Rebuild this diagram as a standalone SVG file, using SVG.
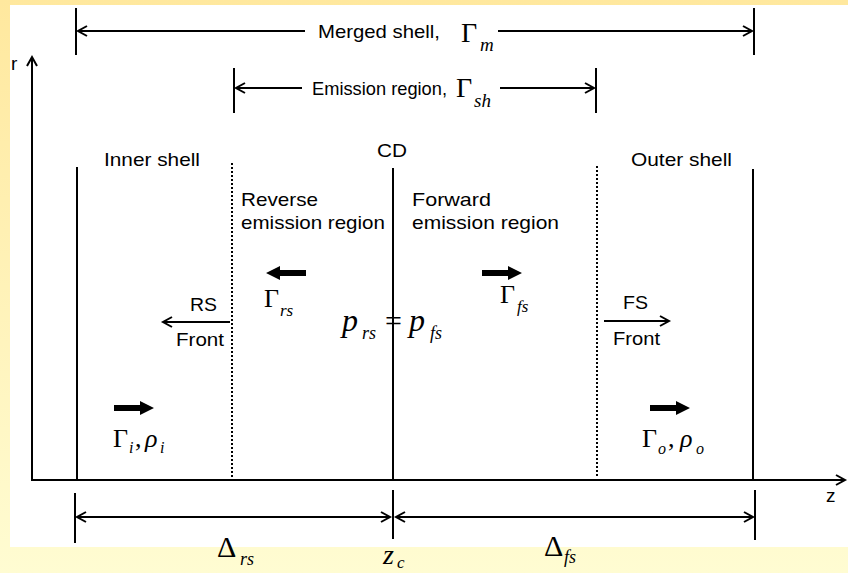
<svg xmlns="http://www.w3.org/2000/svg" width="848" height="573" viewBox="0 0 848 573">
<defs>
<linearGradient id="bg" x1="0" y1="0" x2="0" y2="1">
<stop offset="0" stop-color="#FFE89E"/>
<stop offset="1" stop-color="#FFFCD2"/>
</linearGradient>
<marker id="ah" markerUnits="userSpaceOnUse" markerWidth="14" markerHeight="14" refX="11" refY="7" orient="auto-start-reverse">
<path d="M2,2 L11,7 L2,12" fill="none" stroke="#000" stroke-width="2"/>
</marker>
</defs>
<style>
.ln{stroke:#000;stroke-width:2;fill:none}
.dot{stroke:#000;stroke-width:2;fill:none;stroke-dasharray:2 2}
.lab{font-family:"Liberation Sans",Arial,sans-serif;font-size:19px;fill:#000}
.m{font-family:"Liberation Serif","Times New Roman",serif;fill:#000}
.it{font-style:italic}
.thick{fill:#000}
</style>
<rect x="0" y="0" width="848" height="573" fill="url(#bg)"/>
<rect x="10" y="5" width="838" height="542" fill="#fff"/>

<g id="axes">
<line class="ln" x1="32" y1="480" x2="32" y2="57" marker-end="url(#ah)"/>
<line class="ln" x1="31" y1="480" x2="845" y2="480" marker-end="url(#ah)"/>
<text class="lab" x="11" y="70">r</text>
<text class="lab" x="826" y="502">z</text>
</g>

<g id="connectors">
<line class="ln" x1="76" y1="8" x2="76" y2="55"/>
<line class="ln" x1="754" y1="8" x2="754" y2="55"/>
<line class="ln" x1="78" y1="31" x2="305" y2="31" marker-start="url(#ah)"/>
<line class="ln" x1="498" y1="31" x2="752" y2="31" marker-end="url(#ah)"/>
<line class="ln" x1="234" y1="68" x2="234" y2="113"/>
<line class="ln" x1="596" y1="68" x2="596" y2="113"/>
<line class="ln" x1="236" y1="88" x2="302" y2="88" marker-start="url(#ah)"/>
<line class="ln" x1="500" y1="88" x2="594" y2="88" marker-end="url(#ah)"/>
<line class="ln" x1="75" y1="493" x2="75" y2="543"/>
<line class="ln" x1="393" y1="490" x2="393" y2="539"/>
<line class="ln" x1="755" y1="490" x2="755" y2="540"/>
<line class="ln" x1="77" y1="517" x2="390" y2="517" marker-start="url(#ah)" marker-end="url(#ah)"/>
<line class="ln" x1="396" y1="517" x2="753" y2="517" marker-start="url(#ah)" marker-end="url(#ah)"/>
<line class="ln" x1="230" y1="322" x2="163" y2="322" marker-end="url(#ah)"/>
<line class="ln" x1="604" y1="321" x2="669" y2="321" marker-end="url(#ah)"/>
</g>

<g id="inner-shell">
<line class="ln" x1="77" y1="167" x2="77" y2="480"/>
<text class="lab" x="104" y="166" textLength="96" lengthAdjust="spacingAndGlyphs">Inner shell</text>
<polygon class="thick" points="114,405 140,405 140,401 154,408 140,415 140,411 114,411"/>
<text class="m" x="113" y="447" font-size="26">Γ</text>
<text class="m it" x="129" y="453" font-size="16">i</text>
<text class="m" x="135" y="447" font-size="26">,</text>
<text class="m it" x="145" y="447" font-size="26">ρ</text>
<text class="m it" x="160" y="453" font-size="16">i</text>
</g>

<g id="reverse-shock">
<line class="dot" x1="232" y1="163" x2="232" y2="478"/>
<text class="lab" x="241" y="206" textLength="77" lengthAdjust="spacingAndGlyphs">Reverse</text>
<text class="lab" x="241" y="229" textLength="144" lengthAdjust="spacingAndGlyphs">emission region</text>
<text class="lab" x="190" y="311" textLength="27" lengthAdjust="spacingAndGlyphs">RS</text>
<text class="lab" x="176" y="346" textLength="48" lengthAdjust="spacingAndGlyphs">Front</text>
<polygon class="thick" points="306,270 280,270 280,266 266,273 280,280 280,276 306,276"/>
<text class="m" x="264" y="307" font-size="26">Γ</text>
<text class="m it" x="280" y="316" font-size="17">rs</text>
</g>

<g id="cd">
<line class="ln" x1="393" y1="168" x2="393" y2="480"/>
<text class="lab" x="377" y="157" textLength="30" lengthAdjust="spacingAndGlyphs">CD</text>
<text class="m it" x="342" y="331" font-size="32">p</text>
<text class="m it" x="362" y="339" font-size="18">rs</text>
<text class="m" x="385" y="331" font-size="30">=</text>
<text class="m it" x="409" y="331" font-size="32">p</text>
<text class="m it" x="430" y="339" font-size="18">fs</text>
<text class="m it" x="383" y="564" font-size="28">z</text>
<text class="m it" x="397" y="568" font-size="17">c</text>
</g>

<g id="forward-shock">
<line class="dot" x1="597" y1="166" x2="597" y2="476"/>
<text class="lab" x="412" y="206" textLength="79" lengthAdjust="spacingAndGlyphs">Forward</text>
<text class="lab" x="412" y="229" textLength="147" lengthAdjust="spacingAndGlyphs">emission region</text>
<text class="lab" x="623" y="309" textLength="25" lengthAdjust="spacingAndGlyphs">FS</text>
<text class="lab" x="613" y="345" textLength="47" lengthAdjust="spacingAndGlyphs">Front</text>
<polygon class="thick" points="482,270 508,270 508,266 522,273 508,280 508,276 482,276"/>
<text class="m" x="500" y="303" font-size="26">Γ</text>
<text class="m it" x="517" y="312" font-size="17">fs</text>
</g>

<g id="outer-shell">
<line class="ln" x1="753" y1="169" x2="753" y2="480"/>
<text class="lab" x="631" y="166" textLength="101" lengthAdjust="spacingAndGlyphs">Outer shell</text>
<polygon class="thick" points="650,405 676,405 676,401 690,408 676,415 676,411 650,411"/>
<text class="m" x="642" y="447" font-size="26">Γ</text>
<text class="m it" x="658" y="454" font-size="16">o</text>
<text class="m" x="668" y="447" font-size="26">,</text>
<text class="m it" x="680" y="447" font-size="26">ρ</text>
<text class="m it" x="696" y="454" font-size="16">o</text>
</g>

<g id="merged-shell">
<text class="lab" x="318" y="38" textLength="122" lengthAdjust="spacingAndGlyphs">Merged shell,</text>
<text class="m" x="461" y="42" font-size="28">Γ</text>
<text class="m it" x="480" y="51" font-size="19">m</text>
</g>

<g id="emission-region">
<text class="lab" x="312" y="95" textLength="135" lengthAdjust="spacingAndGlyphs">Emission region,</text>
<text class="m" x="456" y="97" font-size="28">Γ</text>
<text class="m it" x="474" y="107" font-size="19">sh</text>
</g>

<g id="widths">
<text class="m" x="217" y="557" font-size="30">Δ</text>
<text class="m it" x="240" y="565" font-size="18">rs</text>
<text class="m" x="544" y="556" font-size="30">Δ</text>
<text class="m it" x="564" y="563" font-size="18">fs</text>
</g>
</svg>
